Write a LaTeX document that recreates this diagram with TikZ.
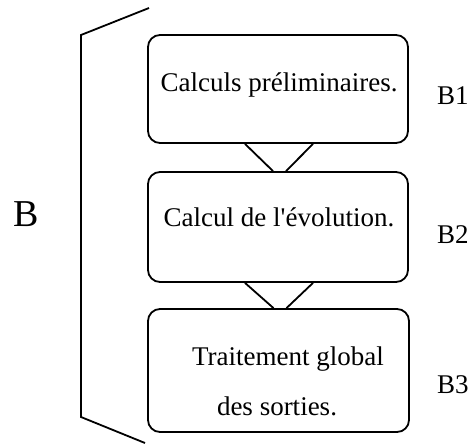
\documentclass[tikz,border=0pt]{standalone}
\usepackage{fontspec}
\setmainfont{Liberation Serif}[Ligatures=TeXOff]
\begin{document}
\begin{tikzpicture}[x=1pt,y=-1pt,
  stepbox/.style={draw, line width=1.8pt, rounded corners=12pt, rectangle,
    inner sep=0pt, minimum width=260pt},
  link/.style={line width=1.8pt},
  brace/.style={line width=1.8pt, line join=miter},
  boxtext/.style={inner sep=0pt, font=\fontsize{27}{50}\selectfont},
  tag/.style={inner sep=0pt, anchor=base west, font=\fontsize{27}{32}\selectfont},
  bigtag/.style={inner sep=0pt, anchor=base west, font=\fontsize{38}{44}\selectfont}]
  \useasboundingbox (0,0) rectangle (470,444);

  % the three processing steps
  \node[stepbox, minimum height=108pt] (b1) at (278,89) {};
  \node[stepbox, minimum height=110pt] (b2) at (278,227) {};
  \node[stepbox, minimum width=261pt, minimum height=123pt] (b3) at (278.5,370.5) {};

  \node[boxtext, anchor=base] (t1) at (279,91) {Calculs préliminaires.};
  \node[boxtext, anchor=base] (t2) at (279,226) {Calcul de l'évolution.};
  \node[boxtext, align=center] (t3) at (277,381) {\hspace*{22pt}Traitement global\\des sorties.};

  % funnel-shaped links between consecutive steps
  \draw[link] ([xshift=-33pt]b1.south) -- ([xshift=-5pt]b2.north);
  \draw[link] ([xshift=35pt]b1.south) -- ([xshift=8pt]b2.north);
  \draw[link] ([xshift=-33pt]b2.south) -- ([xshift=-5pt]b3.north);
  \draw[link] ([xshift=35pt]b2.south) -- ([xshift=8pt]b3.north);

  % step labels
  \node[tag] (l1) at (437,104) {B1};
  \node[tag] (l2) at (437,243) {B2};
  \node[tag] (l3) at (437,393) {B3};

  % grouping bracket with its label
  \coordinate (bt) at (149,8);
  \coordinate (btc) at (81,35);
  \coordinate (bbc) at (81,417);
  \coordinate (bb) at (145,443);
  \draw[brace] (bt) -- (btc) -- (bbc) -- (bb);
  \node[bigtag] (lb) at (13,226) {B};
\end{tikzpicture}
\end{document}
